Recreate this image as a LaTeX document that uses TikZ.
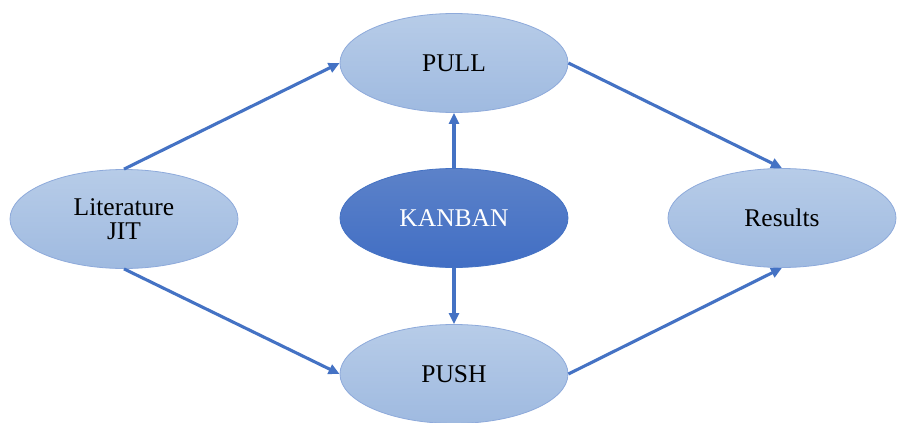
\documentclass[tikz,border=0pt]{standalone}
\usepackage{fontspec}
\setmainfont{Liberation Serif}
\usetikzlibrary{shapes.geometric,arrows.meta}
\definecolor{lighttop}{HTML}{B7CCE8}
\definecolor{lightbot}{HTML}{9FBAE0}
\definecolor{lightedge}{HTML}{8EAADB}
\definecolor{darktop}{HTML}{5C82C9}
\definecolor{darkbot}{HTML}{416EC4}
\definecolor{arrowblue}{HTML}{4472C4}
\tikzset{
  lightell/.style={ellipse, draw=lightedge, line width=0.8pt, top color=lighttop, bottom color=lightbot,
    minimum width=228pt, minimum height=99pt, inner sep=0pt, align=center,
    font=\fontsize{25.5}{28}\selectfont, text=black},
  darkell/.style={lightell, draw=arrowblue, top color=darktop, bottom color=darkbot, text=white},
  conn/.style={draw=arrowblue, line width=3.1pt, -{Triangle[length=11pt,width=10pt]}}
}
\begin{document}
\begin{tikzpicture}[x=1pt,y=-1pt]
\path[use as bounding box, fill=white] (0,0) rectangle (898,423);
\node[lightell] (pull) at (454,63) {PULL};
\node[darkell] (kanban) at (454,218) {KANBAN};
\node[lightell] (lit) at (124,219) {Literature\\[-4pt]JIT};
\node[lightell] (res) at (782,218) {Results};
\node[lightell] (push) at (454,374) {PUSH};
\draw[conn] (lit.north) -- (pull.west);
\draw[conn] (pull.east) -- (res.north);
\draw[conn] (kanban.north) -- (pull.south);
\draw[conn] (kanban.south) -- (push.north);
\draw[conn] (lit.south) -- (push.west);
\draw[conn] (push.east) -- (res.south);
\end{tikzpicture}
\end{document}
